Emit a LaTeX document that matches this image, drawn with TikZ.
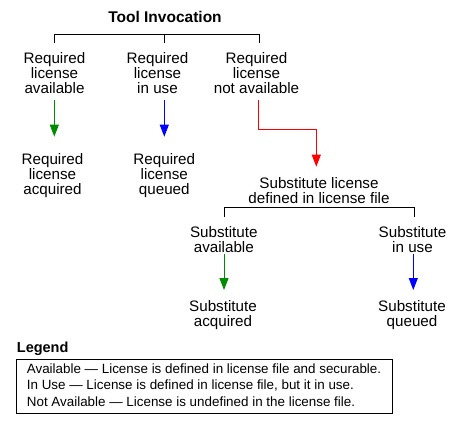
\documentclass[tikz,border=0pt]{standalone}
\usepackage{fontspec}
\setmainfont{Liberation Sans}
\usetikzlibrary{arrows.meta,calc}
\definecolor{ggreen}{RGB}{0,140,0}
\definecolor{bblue}{RGB}{0,0,255}
\definecolor{rred}{RGB}{255,0,0}
\tikzset{
  lbl/.style={align=center,inner sep=0pt,anchor=north,font=\fontsize{15.2}{15.2}\selectfont},
  ttl/.style={inner sep=0pt,font=\fontsize{15.5}{17}\selectfont\bfseries},
  brk/.style={draw=black,line width=1pt},
  arr/.style={line width=1pt,-{Triangle[width=9pt,length=12pt]}},
  garr/.style={arr,draw=ggreen},
  barr/.style={arr,draw=bblue},
  rarr/.style={arr,draw=rred},
  legt/.style={inner sep=0pt,anchor=base west,font=\fontsize{14.5}{16}\selectfont\bfseries},
  legbox/.style={draw=black,line width=0.8pt,inner sep=0pt,anchor=north west,minimum width=375.7pt,minimum height=54pt},
  legtxt/.style={inner sep=0pt,anchor=base west,font=\fontsize{13.4}{16}\selectfont},
}
\begin{document}
\begin{tikzpicture}[x=1pt,y=-1pt]
\useasboundingbox (0,0) rectangle (457,427);
% title
\node[ttl] (title) at (165,17.2) {Tool Invocation};
% top row
\node[lbl] (avail) at (54.5,52.3) {Required\\license\\available};
\node[lbl] (inuse) at (157.5,52.3) {Required\\license\\in use};
\node[lbl] (notav) at (256.5,52.3) {Required\\license\\not available};
% results row
\node[lbl] (acq) at (52.5,153.3) {Required\\license\\acquired};
\node[lbl] (que) at (164.3,153.3) {Required\\license\\queued};
\node[lbl] (subst) at (319,177.3) {Substitute license\\defined in license file};
% substitute row
\node[lbl] (savail) at (223.8,226) {Substitute\\available};
\node[lbl] (sinuse) at (412.5,226) {Substitute\\in use};
\node[lbl] (sacq) at (223,300) {Substitute\\acquired};
\node[lbl] (sque) at (412,300) {Substitute\\queued};
% top bracket
\coordinate (t1) at (54.3,43.3);
\coordinate (t2) at (164.3,43.3);
\coordinate (t3) at (259.3,43.3);
\draw[brk] (t1) -- (t1 |- 0,34.7) -| (t3);
\draw[brk] (t2) -- (t2 |- 0,34.7);
% lower bracket
\coordinate (s1) at (224,216.7);
\coordinate (s2) at (414.3,216.7);
\draw[brk] (s1) -- (s1 |- 0,207.3) -| (s2);
% arrows
\draw[garr,shorten <=6.2pt,shorten >=16.6pt] (avail.south -| t1) -- (acq.north -| t1);
\draw[barr,shorten <=6.2pt,shorten >=16.6pt] (inuse.south -| t2) -- (que.north -| t2);
\coordinate (r0) at (258.3,43.3);
\coordinate (rc) at (316.3,130);
\draw[rarr,shorten <=6.2pt,shorten >=10.6pt] (notav.south -| r0) |- (rc) -- (rc |- subst.north);
\draw[garr,shorten <=1.2pt,shorten >=10pt] (savail.south -| s1) -- (sacq.north -| s1);
\coordinate (s3) at (413.3,216.7);
\draw[barr,shorten <=1.2pt,shorten >=10pt] (sinuse.south -| s3) -- (sque.north -| s3);
% legend
\node[legt] (legtitle) at (16.7,352.7) {Legend};
\node[legbox] (box) at (16,359.3) {};
\node[legtxt] (leg1) at (26.7,373.3) {Available — License is defined in license file and securable.};
\node[legtxt] (leg2) at (26.7,389.8) {In Use — License is defined in license file, but it in use.};
\node[legtxt] (leg3) at (26.7,406.1) {Not Available — License is undefined in the license file.};
\end{tikzpicture}
\end{document}
